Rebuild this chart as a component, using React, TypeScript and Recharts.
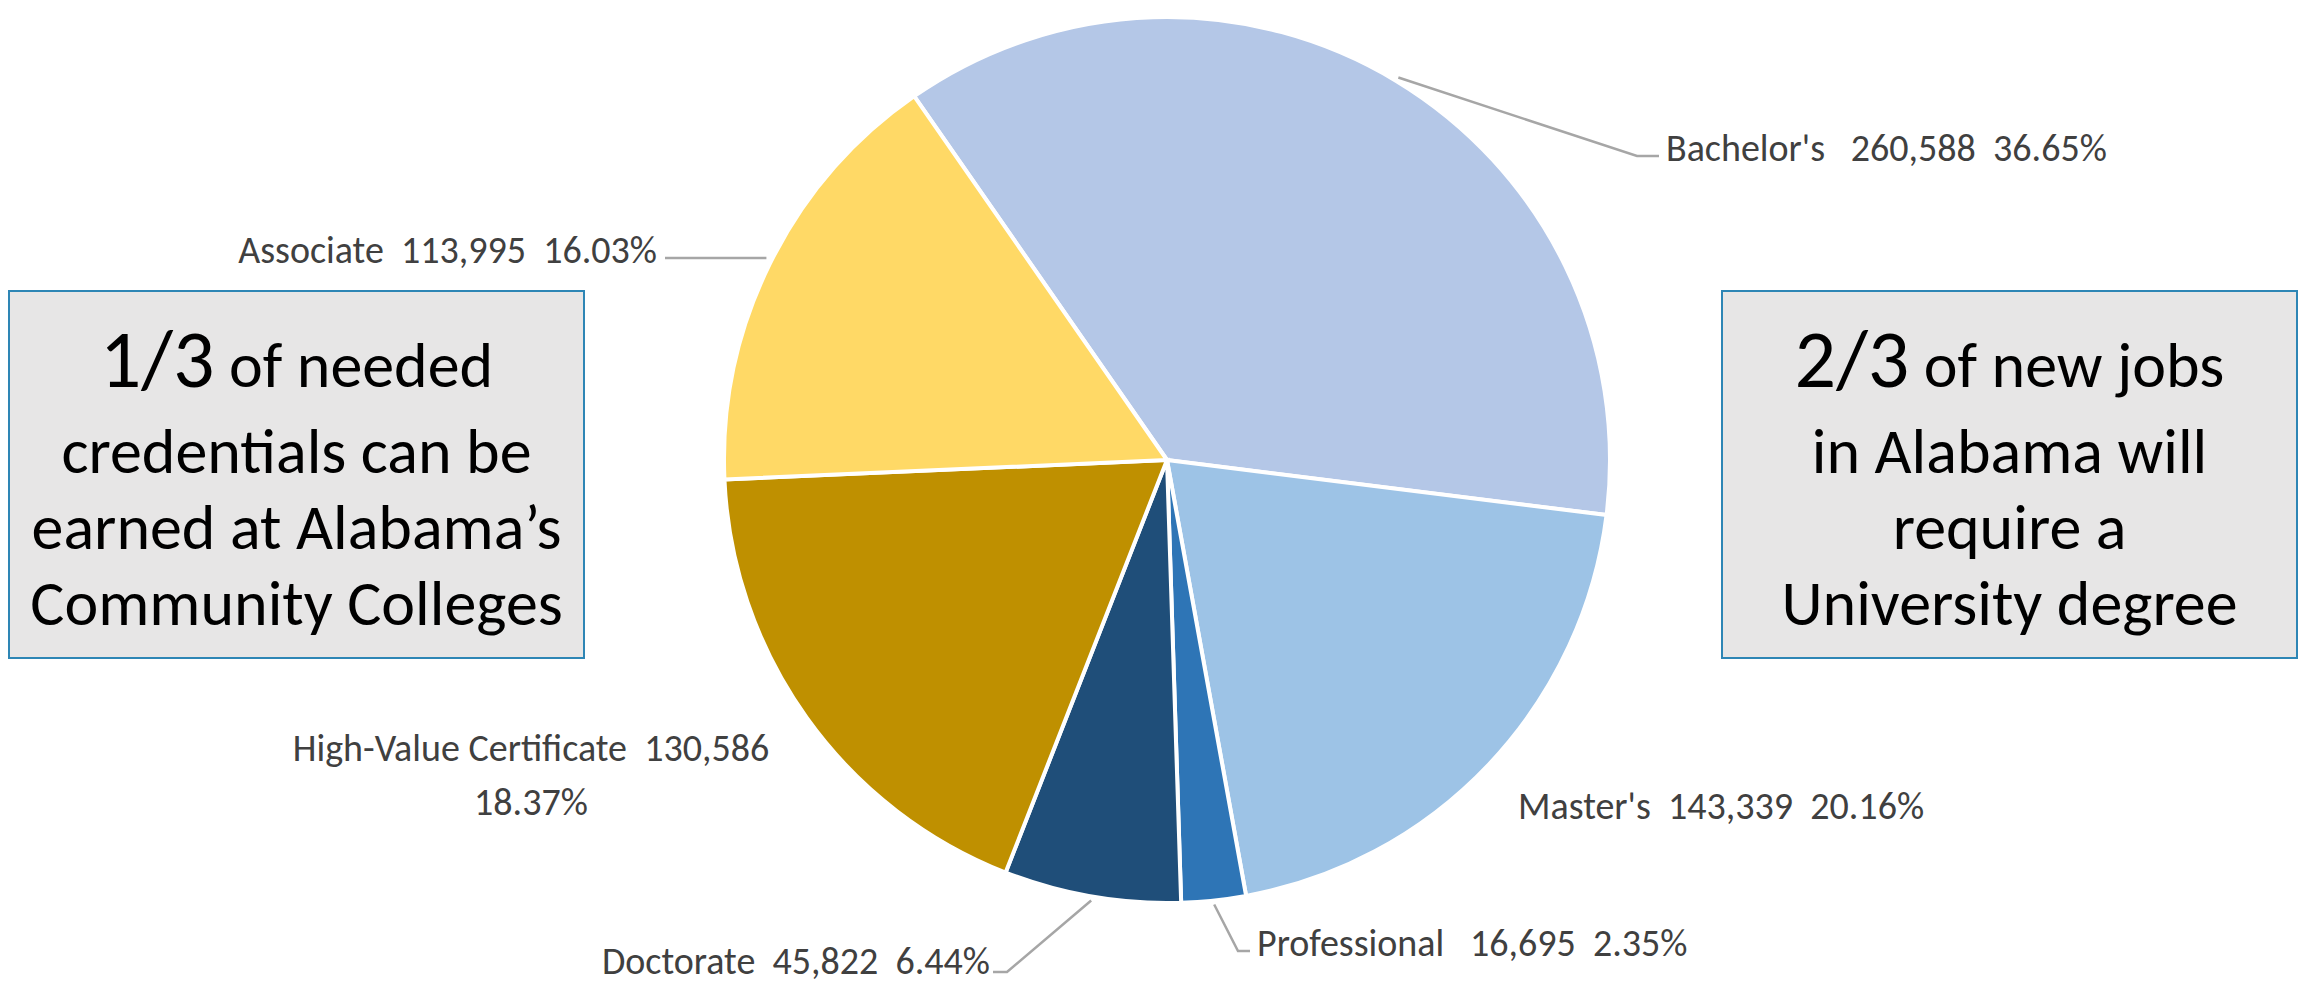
import { PieChart, Pie, Cell } from "recharts";

const categories = ["Bachelor's", "Master's", "Professional", "Doctorate", "High-Value Certificate", "Associate"];
const jobs = [260588, 143339, 16695, 45822, 130586, 113995];
const colors = ["#B4C7E7", "#9DC3E6", "#2E75B6", "#1F4E79", "#BF9000", "#FFD966"];

const leftNote = ["of needed", "credentials can be", "earned at Alabama\u2019s", "Community Colleges"];
const rightNote = ["of new jobs", "in Alabama will", "require a", "University degree"];

const data = categories.map((name, i) => ({ name, value: jobs[i] }));

// where each label sits, and the elbow of its leader line (null = no leader)
const labelLayout = [
  { x: 1666, y: 148, anchor: "start", gap: "   ", elbow: [1637, 156], end: [1659, 156] },
  { x: 1518, y: 806, anchor: "start", gap: "  ", elbow: null, end: null },
  { x: 1257, y: 943, anchor: "start", gap: "   ", elbow: [1238, 951], end: [1250, 951] },
  { x: 990, y: 961, anchor: "end", gap: "  ", elbow: [1007, 972], end: [993, 972] },
  { x: 531, y: 748, anchor: "middle", gap: "  ", elbow: null, end: null, wrap: true },
  { x: 657, y: 250, anchor: "end", gap: "  ", elbow: null, end: [665, 258] },
];

const FONT = "Carlito, Lato, 'Liberation Sans', sans-serif";
const RAD = Math.PI / 180;
const LABEL_SIZE = 38;

function renderLabel(props: any) {
  const { cx, cy, midAngle, outerRadius, percent, index, name, value } = props;
  const lay = labelLayout[index];
  const sx = cx + (outerRadius + 4) * Math.cos(-midAngle * RAD);
  const sy = cy + (outerRadius + 4) * Math.sin(-midAngle * RAD);
  const pct = `${(percent * 100).toFixed(2)}%`;
  const num = value.toLocaleString("en-US");
  let pts = "";
  if (lay.elbow) pts = `${sx},${sy} ${lay.elbow[0]},${lay.elbow[1]} ${lay.end![0]},${lay.end![1]}`;
  else if (lay.end) pts = `${sx},${lay.end[1]} ${lay.end[0]},${lay.end[1]}`;
  return (
    <g key={`lbl-${index}`}>
      {pts && <polyline points={pts} fill="none" stroke="#A6A6A6" strokeWidth={2.5} />}
      {lay.wrap ? (
        <text x={lay.x} y={lay.y} textAnchor="middle" fill="#404040" fontSize={LABEL_SIZE} fontFamily={FONT} style={{ whiteSpace: "pre" }}>
          <tspan x={lay.x} dy="0.35em">{`${name}${lay.gap}${num}`}</tspan>
          <tspan x={lay.x} dy={54}>{pct}</tspan>
        </text>
      ) : (
        <text x={lay.x} y={lay.y} dy="0.35em" textAnchor={lay.anchor as any} fill="#404040" fontSize={LABEL_SIZE} fontFamily={FONT} style={{ whiteSpace: "pre" }}>
          {`${name}${lay.gap}${num}  ${pct}`}
        </text>
      )}
    </g>
  );
}

function NoteBox({ left, big, lines }: { left: number; big: string; lines: string[] }) {
  return (
    <div
      style={{
        position: "absolute", left, top: 290, width: 577, height: 369, boxSizing: "border-box",
        background: "#E7E6E6", border: "2px solid #2E86B5", fontFamily: FONT, color: "#000",
        display: "flex", flexDirection: "column", alignItems: "center", justifyContent: "center",
        fontSize: 64, lineHeight: "76px", paddingTop: 2, whiteSpace: "nowrap",
      }}
    >
      <div style={{ lineHeight: "96px" }}>
        <span style={{ fontSize: 82 }}>{big}</span> {lines[0]}
      </div>
      {lines.slice(1).map((l) => (
        <div key={l}>{l}</div>
      ))}
    </div>
  );
}

export default function App() {
  return (
    <div style={{ position: "absolute", left: 0, top: 0, width: 2306, height: 985, background: "#fff" }}>
      <PieChart width={2306} height={985} style={{ position: "absolute", left: 0, top: 0 }}>
        <Pie
          data={data}
          dataKey="value"
          nameKey="name"
          cx={1162}
          cy={455}
          outerRadius={443}
          startAngle={124.8}
          endAngle={-235.2}
          stroke="#fff"
          strokeWidth={4}
          label={renderLabel}
          labelLine={false}
          isAnimationActive={false}
        >
          {data.map((d, i) => (
            <Cell key={d.name} fill={colors[i]} />
          ))}
        </Pie>
      </PieChart>
      <NoteBox left={8} big="1/3" lines={leftNote} />
      <NoteBox left={1721} big="2/3" lines={rightNote} />
    </div>
  );
}
